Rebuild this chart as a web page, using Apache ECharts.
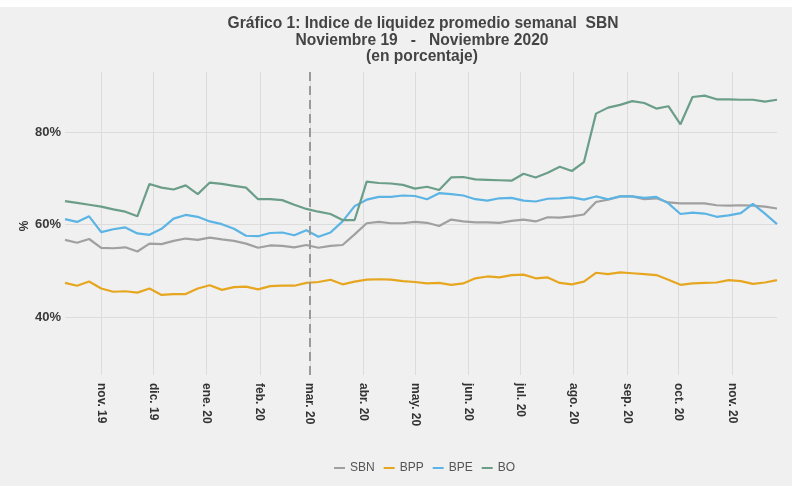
<!DOCTYPE html>
<html>
<head>
<meta charset="utf-8">
<script src="https://cdn.jsdelivr.net/npm/echarts@6/dist/echarts.min.js"></script>
<style>
html,body{margin:0;padding:0;background:#ffffff;}
#chart{width:792px;height:486px;}
</style>
</head>
<body>
<div id="chart"></div>
<script>
// Weekly dates (Fridays)
var dates = [
'2019-10-11','2019-10-18','2019-10-25','2019-11-01','2019-11-08','2019-11-15','2019-11-22','2019-11-29',
'2019-12-06','2019-12-13','2019-12-20','2019-12-27',
'2020-01-03','2020-01-10','2020-01-17','2020-01-24','2020-01-31',
'2020-02-07','2020-02-14','2020-02-21','2020-02-28',
'2020-03-06','2020-03-13','2020-03-20','2020-03-27',
'2020-04-03','2020-04-10','2020-04-17','2020-04-24',
'2020-05-01','2020-05-08','2020-05-15','2020-05-22','2020-05-29',
'2020-06-05','2020-06-12','2020-06-19','2020-06-26',
'2020-07-03','2020-07-10','2020-07-17','2020-07-24','2020-07-31',
'2020-08-07','2020-08-14','2020-08-21','2020-08-28',
'2020-09-04','2020-09-11','2020-09-18','2020-09-25',
'2020-10-02','2020-10-09','2020-10-16','2020-10-23','2020-10-30',
'2020-11-06','2020-11-13','2020-11-20','2020-11-27'
];

var SBN = [56.7,56.1,56.9,55.0,54.9,55.1,54.2,55.9,55.8,56.5,57.0,56.7,
57.2,56.8,56.5,55.9,55.0,55.5,55.4,55.1,55.6,55.0,55.4,55.6,57.9,
60.3,60.6,60.3,60.3,60.6,60.4,59.7,61.1,60.7,60.5,60.5,60.4,60.8,
61.1,60.7,61.6,61.5,61.8,62.2,64.9,65.4,66.1,66.1,65.5,65.7,64.8,
64.6,64.6,64.6,64.2,64.1,64.2,64.1,63.9,63.5];

var BPP = [47.4,46.8,47.7,46.2,45.5,45.6,45.3,46.2,44.8,45.0,45.0,46.2,
46.9,45.9,46.5,46.6,46.0,46.7,46.8,46.8,47.4,47.6,48.1,47.1,47.7,
48.1,48.2,48.1,47.8,47.6,47.3,47.4,47.0,47.3,48.4,48.8,48.6,49.1,
49.2,48.4,48.6,47.4,47.1,47.7,49.6,49.3,49.7,49.5,49.3,49.1,48.1,
47.0,47.3,47.4,47.5,48.0,47.8,47.2,47.5,48.0];

var BPE = [61.2,60.6,61.8,58.4,59.0,59.4,58.1,57.8,59.1,61.3,62.1,61.7,
60.7,60.1,59.1,57.6,57.5,58.2,58.3,57.7,58.8,57.4,58.3,60.7,64.0,
65.4,66.0,66.0,66.3,66.2,65.5,66.8,66.6,66.3,65.5,65.2,65.7,65.8,
65.2,65.0,65.6,65.7,65.9,65.4,66.1,65.5,66.1,66.1,65.8,66.0,64.6,
62.3,62.6,62.4,61.7,62.0,62.5,64.5,62.4,60.1];

var BO = [65.1,64.7,64.3,63.9,63.3,62.8,61.8,68.8,68.0,67.6,68.5,66.6,
69.1,68.8,68.4,68.0,65.5,65.5,65.3,64.3,63.4,62.8,62.3,61.0,61.0,
69.3,69.0,68.9,68.6,67.8,68.2,67.5,70.2,70.3,69.8,69.7,69.6,69.5,
71.0,70.2,71.2,72.5,71.6,73.5,84.0,85.3,85.9,86.7,86.3,85.1,85.6,
81.7,87.6,87.9,87.1,87.1,87.0,87.0,86.6,87.0];

var monthTicks = ['2019-11-01','2019-12-01','2020-01-01','2020-02-01','2020-03-01','2020-04-01',
'2020-05-01','2020-06-01','2020-07-01','2020-08-01','2020-09-01','2020-10-01','2020-11-01'];
var monthLabels = ['nov. 19','dic. 19','ene. 20','feb. 20','mar. 20','abr. 20',
'may. 20','jun. 20','jul. 20','ago. 20','sep. 20','oct. 20','nov. 20'];
var yTicks = [40, 60, 80];
var markDate = '2020-03-01';

var seriesNames = ['SBN','BPP','BPE','BO'];
var seriesValues = [SBN, BPP, BPE, BO];
var colors = ['#a0a0a0','#e6a620','#5cb4e4','#6b9e89'];

var FONT = '"Liberation Sans", Arial, sans-serif';
var DAY = 86400000;

function toTime(s){
  var p = s.split('-');
  return Date.UTC(+p[0], +p[1] - 1, +p[2]);
}
var dateTimes = dates.map(toTime);
var monthTimes = monthTicks.map(toTime);

function monthLabel(v){
  var best = 0, bd = Infinity;
  for (var i = 0; i < monthTimes.length; i++) {
    var d = Math.abs(monthTimes[i] - v);
    if (d < bd) { bd = d; best = i; }
  }
  return bd < 2 * DAY ? monthLabels[best] : '';
}

var series = seriesNames.map(function(name, k){
  var s = {
    name: name,
    type: 'line',
    showSymbol: false,
    symbol: 'none',
    smooth: false,
    lineStyle: { width: 2.2, color: colors[k] },
    itemStyle: { color: colors[k] },
    data: dateTimes.map(function(t, i){ return [t, seriesValues[k][i]]; })
  };
  if (k === 0) {
    s.markLine = {
      silent: true,
      symbol: 'none',
      label: { show: false },
      lineStyle: { type: [9, 5], color: '#9a9a9a', width: 2 },
      data: [{ xAxis: toTime(markDate) }]
    };
  }
  return s;
});

var chart = echarts.init(document.getElementById('chart'), null, { renderer: 'canvas' });
chart.setOption({
  animation: false,
  backgroundColor: '#f0f0f0',
  textStyle: { fontFamily: FONT },
  color: colors,
  graphic: [
    { type: 'rect', left: 0, top: 0, shape: { width: 792, height: 7 }, style: { fill: '#ffffff' }, silent: true },
    { type: 'text', x: 423, y: 32, style: { text: 'Gráfico 1: Indice de liquidez promedio semanal  SBN', fontFamily: FONT, fontSize: 15.6, fontWeight: 'bold', fill: '#444444', textAlign: 'center', textVerticalAlign: 'bottom' } },
    { type: 'text', x: 422, y: 49, style: { text: 'Noviembre 19   -   Noviembre 2020', fontFamily: FONT, fontSize: 15.6, fontWeight: 'bold', fill: '#444444', textAlign: 'center', textVerticalAlign: 'bottom' } },
    { type: 'text', x: 422, y: 65, style: { text: '(en porcentaje)', fontFamily: FONT, fontSize: 15.6, fontWeight: 'bold', fill: '#444444', textAlign: 'center', textVerticalAlign: 'bottom' } },
    { type: 'text', x: 25, y: 226, rotation: Math.PI / 2, style: { text: '%', fontFamily: FONT, fontSize: 12, fontWeight: 'bold', fill: '#333333', textAlign: 'center', textVerticalAlign: 'middle' } }
  ],
  legend: {
    data: seriesNames,
    left: 329,
    top: 457,
    icon: 'rect',
    itemWidth: 11,
    itemHeight: 2,
    itemGap: 9,
    textStyle: { fontFamily: FONT, fontSize: 12, color: '#555555' }
  },
  grid: { left: 65, right: 15, top: 72, bottom: 111, containLabel: false, outerBoundsMode: 'none' },
  xAxis: {
    type: 'value',
    min: dateTimes[0],
    max: dateTimes[dateTimes.length - 1],
    axisLine: { show: false },
    axisTick: { show: false, customValues: monthTimes },
    axisLabel: {
      customValues: monthTimes,
      rotate: -90,
      margin: 8,
      fontFamily: FONT,
      fontSize: 12,
      fontWeight: 'bold',
      color: '#333333',
      formatter: function(v){ return monthLabel(v); }
    },
    splitLine: { show: true, lineStyle: { color: '#dcdcdc', width: 1 } }
  },
  yAxis: {
    type: 'value',
    min: 27.5,
    max: 93,
    axisLine: { show: false },
    axisTick: { show: false, customValues: yTicks },
    axisLabel: {
      customValues: yTicks,
      margin: 4,
      fontFamily: FONT,
      fontSize: 13,
      fontWeight: 'bold',
      color: '#3a3a3a',
      formatter: '{value}%'
    },
    splitLine: { show: true, lineStyle: { color: '#dcdcdc', width: 1 } }
  },
  series: series
});
</script>
</body>
</html>
